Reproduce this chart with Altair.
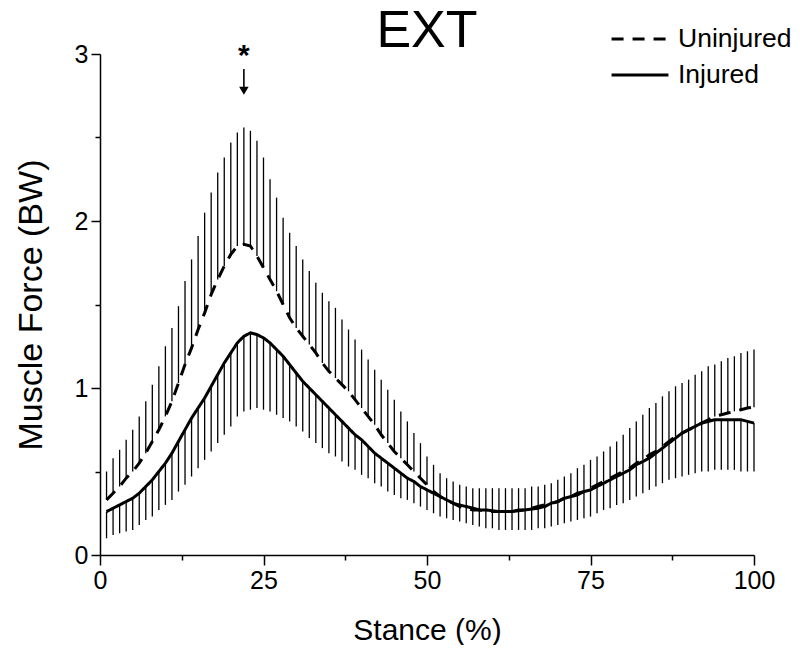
import altair as alt
import pandas as pd

FONT = "Liberation Sans"

stance = list(range(1, 101))

uninjured_mean = [
    0.33, 0.37, 0.41, 0.46, 0.50, 0.55, 0.61, 0.68, 0.75, 0.83,
    0.92, 1.03, 1.14, 1.24, 1.35, 1.45, 1.56, 1.65, 1.73, 1.80,
    1.85, 1.86, 1.85, 1.79, 1.72, 1.65, 1.58, 1.50, 1.42, 1.36,
    1.31, 1.26, 1.21, 1.15, 1.10, 1.06, 1.02, 0.98, 0.93, 0.88,
    0.83, 0.78, 0.72, 0.67, 0.62, 0.58, 0.54, 0.50, 0.46, 0.42,
    0.38, 0.35, 0.33, 0.31, 0.29, 0.28, 0.27, 0.27, 0.26, 0.26,
    0.26, 0.26, 0.26, 0.27, 0.27, 0.28, 0.29, 0.30, 0.31, 0.32,
    0.34, 0.35, 0.37, 0.38, 0.40, 0.42, 0.44, 0.46, 0.48, 0.50,
    0.52, 0.55, 0.57, 0.60, 0.62, 0.65, 0.68, 0.71, 0.73, 0.75,
    0.77, 0.79, 0.81, 0.83, 0.84, 0.85, 0.86, 0.87, 0.88, 0.885,
]

uninjured_upper = [
    0.50, 0.58, 0.63, 0.69, 0.75, 0.83, 0.92, 1.02, 1.13, 1.25,
    1.36, 1.49, 1.64, 1.77, 1.91, 2.05, 2.17, 2.29, 2.38, 2.47,
    2.53, 2.56, 2.54, 2.48, 2.38, 2.25, 2.14, 2.02, 1.93, 1.85,
    1.77, 1.70, 1.63, 1.57, 1.52, 1.48, 1.41, 1.35, 1.29, 1.23,
    1.17, 1.11, 1.05, 0.99, 0.93, 0.86, 0.80, 0.73, 0.67, 0.59,
    0.54, 0.49, 0.46, 0.44, 0.42, 0.41, 0.40, 0.40, 0.40, 0.40,
    0.40, 0.40, 0.40, 0.40, 0.40, 0.41, 0.41, 0.42, 0.43, 0.45,
    0.47, 0.49, 0.52, 0.54, 0.57, 0.59, 0.62, 0.65, 0.68, 0.72,
    0.76, 0.80, 0.84, 0.88, 0.91, 0.95, 0.98, 1.01, 1.03, 1.05,
    1.08, 1.10, 1.13, 1.14, 1.16, 1.18, 1.19, 1.21, 1.22, 1.23,
]

injured_mean = [
    0.26, 0.28, 0.30, 0.32, 0.34, 0.37, 0.41, 0.45, 0.50, 0.55,
    0.61, 0.68, 0.75, 0.82, 0.88, 0.94, 1.01, 1.08, 1.15, 1.21,
    1.27, 1.31, 1.33, 1.32, 1.30, 1.27, 1.23, 1.19, 1.14, 1.09,
    1.04, 1.00, 0.96, 0.92, 0.88, 0.84, 0.80, 0.76, 0.72, 0.69,
    0.65, 0.61, 0.58, 0.55, 0.52, 0.49, 0.46, 0.44, 0.41, 0.39,
    0.37, 0.35, 0.33, 0.31, 0.30, 0.29, 0.28, 0.27, 0.27, 0.265,
    0.26, 0.26, 0.26, 0.265, 0.27, 0.275, 0.28, 0.29, 0.31, 0.32,
    0.34, 0.35, 0.36, 0.38, 0.39, 0.41, 0.43, 0.45, 0.47, 0.49,
    0.51, 0.54, 0.56, 0.58, 0.61, 0.64, 0.67, 0.70, 0.73, 0.75,
    0.77, 0.79, 0.80, 0.81, 0.81, 0.81, 0.81, 0.81, 0.80, 0.79,
]

injured_lower = [
    0.10, 0.12, 0.13, 0.14, 0.15, 0.18, 0.21, 0.23, 0.27, 0.30,
    0.33, 0.38, 0.42, 0.47, 0.52, 0.57, 0.62, 0.67, 0.72, 0.77,
    0.83, 0.86, 0.87, 0.88, 0.87, 0.86, 0.84, 0.82, 0.80, 0.77,
    0.74, 0.70, 0.67, 0.64, 0.61, 0.59, 0.56, 0.53, 0.51, 0.48,
    0.46, 0.43, 0.41, 0.38, 0.36, 0.34, 0.33, 0.31, 0.29, 0.27,
    0.25, 0.23, 0.22, 0.21, 0.20, 0.19, 0.18, 0.17, 0.16, 0.16,
    0.15, 0.15, 0.15, 0.15, 0.15, 0.15, 0.16, 0.16, 0.17, 0.18,
    0.19, 0.20, 0.21, 0.22, 0.23, 0.25, 0.27, 0.28, 0.30, 0.31,
    0.33, 0.35, 0.37, 0.39, 0.41, 0.43, 0.45, 0.46, 0.47, 0.48,
    0.49, 0.50, 0.50, 0.51, 0.51, 0.51, 0.51, 0.50, 0.50, 0.50,
]

groups = ["Uninjured", "Injured"]
x_major = [0, 25, 50, 75, 100]
x_minor = [12.5, 37.5, 62.5, 87.5]
y_major = [0, 1, 2, 3]
y_minor = [0.5, 1.5, 2.5]

# panel title, placed over the middle of the stance axis
panel_title = ["EXT"]
panel_title_x = [50]
panel_title_y = [3.04]

# significance marker
sig_x = [22]
sig_star_y = [2.99]
sig_arrow_top = [2.91]
sig_arrow_bottom = [2.80]
sig_head_y = [2.78]

lines_df = pd.DataFrame({
    "x": stance * 2,
    "y": uninjured_mean + injured_mean,
    "group": ["Uninjured"] * 100 + ["Injured"] * 100,
})
bars_df = pd.DataFrame({
    "x": stance * 2,
    "y": uninjured_mean + injured_lower,
    "y2": uninjured_upper + injured_mean,
})
sig_df = pd.DataFrame({
    "x": sig_x, "star": sig_star_y, "top": sig_arrow_top,
    "bottom": sig_arrow_bottom, "head": sig_head_y,
})
title_df = pd.DataFrame({"x": panel_title_x, "y": panel_title_y, "t": panel_title})

xscale = alt.Scale(domain=[0, 100], nice=False, zero=False)
yscale = alt.Scale(domain=[0, 3], nice=False)

main_x_axis = alt.Axis(
    values=x_major, format="d", orient="bottom", grid=False,
    tickSize=10, tickWidth=1.5, tickColor="black",
    domainWidth=1.5, domainColor="black",
    labelFont=FONT, labelFontSize=25, labelColor="black", labelPadding=3,
    labelFlush=False,
    title="Stance (%)", titleFont=FONT, titleFontSize=30,
    titleFontWeight="normal", titleColor="black", titlePadding=22,
)
main_y_axis = alt.Axis(
    values=y_major, format="d", orient="left", grid=False,
    tickSize=9, tickWidth=1.5, tickColor="black",
    domainWidth=1.5, domainColor="black",
    labelFont=FONT, labelFontSize=25, labelColor="black", labelPadding=3,
    labelFlush=False,
    title="Muscle Force (BW)", titleFont=FONT, titleFontSize=34,
    titleFontWeight="normal", titleColor="black", titlePadding=26,
)

bars = alt.Chart(bars_df).mark_rule(color="black", strokeWidth=1.3).encode(
    x=alt.X("x:Q", scale=xscale, axis=None),
    y=alt.Y("y:Q", scale=yscale, axis=None),
    y2="y2:Q",
)

lines = alt.Chart(lines_df).mark_line(color="black", strokeWidth=3).encode(
    x=alt.X("x:Q", scale=xscale, axis=main_x_axis),
    y=alt.Y("y:Q", scale=yscale, axis=main_y_axis),
    strokeDash=alt.StrokeDash(
        "group:N",
        scale=alt.Scale(domain=groups, range=[[12, 9], [1, 0]]),
        legend=alt.Legend(
            orient="none", legendX=518, legendY=-37, title=None,
            symbolType="M-1.4,0L1.4,0", symbolStrokeWidth=3, symbolSize=1650,
            symbolStrokeColor="black", symbolFillColor="transparent",
            labelFont=FONT, labelFontSize=26.5, labelColor="black",
            labelOffset=16, rowPadding=0,
        ),
    ),
    detail="group:N",
)

minor = alt.Chart(lines_df).mark_point(opacity=0).encode(
    x=alt.X("x:Q", scale=xscale, axis=alt.Axis(
        values=x_minor, orient="bottom", labels=False, domain=False, grid=False,
        tickSize=5, tickWidth=1.5, tickColor="black", title=None)),
    y=alt.Y("y:Q", scale=yscale, axis=alt.Axis(
        values=y_minor, orient="left", labels=False, domain=False, grid=False,
        tickSize=5, tickWidth=1.5, tickColor="black", title=None)),
)

title_text = alt.Chart(title_df).mark_text(
    font=FONT, fontSize=52, color="black", baseline="alphabetic", align="center",
).encode(
    x=alt.X("x:Q", scale=xscale, axis=None),
    y=alt.Y("y:Q", scale=yscale, axis=None),
    text="t:N",
)

star = alt.Chart(sig_df).mark_text(
    text="*", font=FONT, fontSize=30, fontWeight="bold", color="black",
    baseline="middle", align="center",
).encode(
    x=alt.X("x:Q", scale=xscale, axis=None),
    y=alt.Y("star:Q", scale=yscale, axis=None),
)
arrow_line = alt.Chart(sig_df).mark_rule(color="black", strokeWidth=1.6).encode(
    x=alt.X("x:Q", scale=xscale, axis=None),
    y=alt.Y("top:Q", scale=yscale, axis=None),
    y2="bottom:Q",
)
arrow_head = alt.Chart(sig_df).mark_point(
    shape="triangle-down", filled=True, color="black", size=90, opacity=1,
).encode(
    x=alt.X("x:Q", scale=xscale, axis=None),
    y=alt.Y("head:Q", scale=yscale, axis=None),
)

chart = alt.layer(
    lines, minor, bars, title_text, star, arrow_line, arrow_head
).resolve_axis(
    x="independent", y="independent"
).properties(
    width=654, height=501,
    autosize=alt.AutoSizeParams(type="none"),
    padding={"left": 92, "top": 46, "right": 38, "bottom": 90},
).configure_view(strokeWidth=0)

chart.save("out.html", embed_options={"renderer": "svg", "actions": False})
